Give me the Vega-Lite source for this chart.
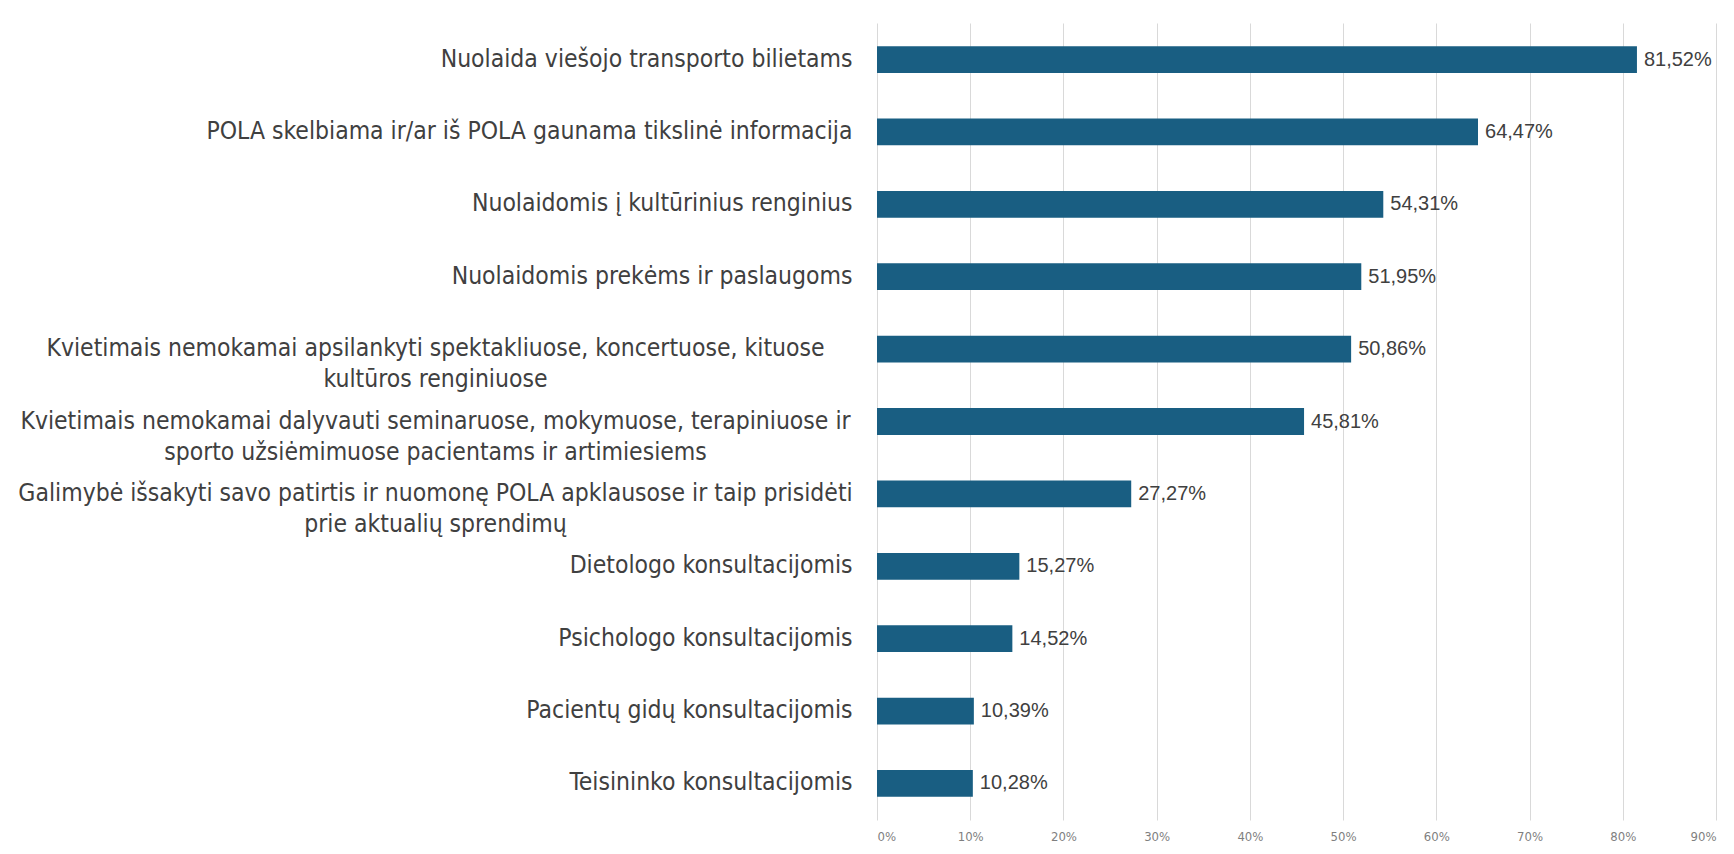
{
  "$schema": "https://vega.github.io/schema/vega-lite/v6.json",
  "width": 839,
  "height": 797,
  "autosize": {"type": "none"},
  "padding": {"left": 877, "top": 23, "right": 18, "bottom": 34},
  "background": "white",
  "config": {
    "view": {"stroke": null},
    "locale": {"number": {"decimal": ",", "thousands": " ", "grouping": [3], "currency": ["", " €"]}}
  },
  "data": {
    "values": [
      {"label": "Nuolaida viešojo transporto bilietams", "value": 0.8152},
      {"label": "POLA skelbiama ir/ar iš POLA gaunama tikslinė informacija", "value": 0.6447},
      {"label": "Nuolaidomis į kultūrinius renginius", "value": 0.5431},
      {"label": "Nuolaidomis prekėms ir paslaugoms", "value": 0.5195},
      {"label": "Kvietimais nemokamai apsilankyti spektakliuose, koncertuose, kituose|kultūros renginiuose", "value": 0.5086},
      {"label": "Kvietimais nemokamai dalyvauti seminaruose, mokymuose, terapiniuose ir|sporto užsiėmimuose pacientams ir artimiesiems", "value": 0.4581},
      {"label": "Galimybė išsakyti savo patirtis ir nuomonę POLA apklausose ir taip prisidėti|prie aktualių sprendimų", "value": 0.2727},
      {"label": "Dietologo konsultacijomis", "value": 0.1527},
      {"label": "Psichologo konsultacijomis", "value": 0.1452},
      {"label": "Pacientų gidų konsultacijomis", "value": 0.1039},
      {"label": "Teisininko konsultacijomis", "value": 0.1028}
    ]
  },
  "encoding": {
    "y": {
      "field": "label",
      "type": "nominal",
      "sort": null,
      "scale": {"paddingInner": 0.63, "paddingOuter": 0.32},
      "axis": {
        "title": null,
        "domain": false,
        "ticks": false,
        "labelExpr": "split(datum.value, '|')",
        "labelFont": "DejaVu Sans Condensed",
        "labelFontSize": 24.5,
        "labelColor": "#404040",
        "labelLineHeight": 31,
        "labelLimit": 900,
        "labelAlign": {"condition": {"test": "indexof(datum.value, '|') >= 0", "value": "center"}, "value": "right"},
        "labelPadding": {"condition": {"test": "indexof(datum.value, '|') >= 0", "value": 442}, "value": 25}
      }
    },
    "x": {
      "field": "value",
      "type": "quantitative",
      "scale": {"domain": [0, 0.9]},
      "axis": {
        "title": null,
        "format": ".0%",
        "values": [0, 0.1, 0.2, 0.3, 0.4, 0.5, 0.6, 0.7, 0.8, 0.9],
        "labelOverlap": false,
        "domain": false,
        "ticks": false,
        "grid": true,
        "gridColor": "#d9d9d9",
        "gridWidth": 1,
        "labelFont": "DejaVu Sans Condensed",
        "labelFontSize": 13,
        "labelColor": "#7f7f7f",
        "labelPadding": 10
      }
    }
  },
  "layer": [
    {"mark": {"type": "bar", "color": "#195e82"}},
    {
      "mark": {"type": "text", "align": "left", "baseline": "middle", "dx": 7, "font": "Liberation Sans", "fontSize": 20, "color": "#404040"},
      "encoding": {"text": {"field": "value", "type": "quantitative", "format": ".2%"}}
    }
  ]
}
